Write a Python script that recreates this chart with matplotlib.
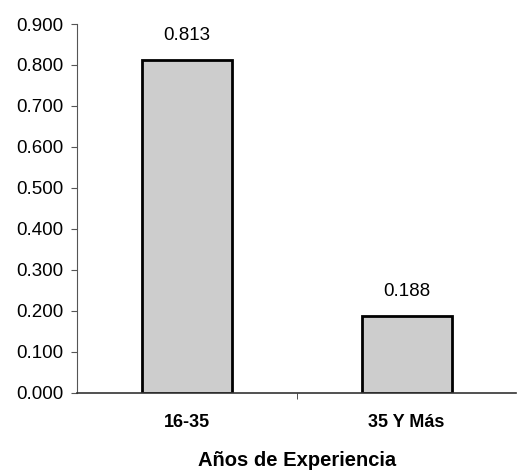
import matplotlib
matplotlib.use("Agg")
import matplotlib.pyplot as plt

categories = ["16-35", "35 Y Más"]
values = [0.813, 0.188]
value_labels = ["0.813", "0.188"]
yticks = [0.0, 0.1, 0.2, 0.3, 0.4, 0.5, 0.6, 0.7, 0.8, 0.9]

plt.rcParams['font.family'] = ['Liberation Sans', 'DejaVu Sans']

fig = plt.figure(figsize=(5.17, 4.71), dpi=100)
ax = fig.add_axes([0.149, 0.166, 0.85, 0.783])
x = list(range(len(categories)))
bars = ax.bar(x, values, width=0.41, color='#cdcdcd', edgecolor='black', linewidth=2)
for xi, v, lab in zip(x, values, value_labels):
    ax.annotate(lab, (xi, v), xytext=(0, 11), textcoords='offset points',
                ha='center', va='bottom', fontsize=13.5)
ax.set_xlim(-0.5, 1.5)
ax.set_ylim(0, 0.9)
ax.set_yticks(yticks)
ax.set_yticklabels([f"{t:.3f}" for t in yticks], fontsize=13.5)
ax.set_xticks(x)
ax.set_xticklabels(categories, fontsize=13, fontweight='bold')
ax.tick_params(axis='x', length=0, pad=15)
ax.set_xticks([0.5], minor=True)
ax.tick_params(axis='x', which='minor', length=4, color='#333333')
ax.tick_params(axis='y', length=4, color='#555555', pad=6)
for s in ['top', 'right']:
    ax.spines[s].set_visible(False)
ax.spines['left'].set_color('#555555')
ax.spines['left'].set_linestyle((0, (4, 1)))
ax.spines['bottom'].set_color('#333333')
ax.spines['bottom'].set_linewidth(1.2)
ax.set_xlabel("Años de Experiencia", fontsize=14.5, fontweight='bold', labelpad=15)
fig.savefig("out.png", dpi=100)
